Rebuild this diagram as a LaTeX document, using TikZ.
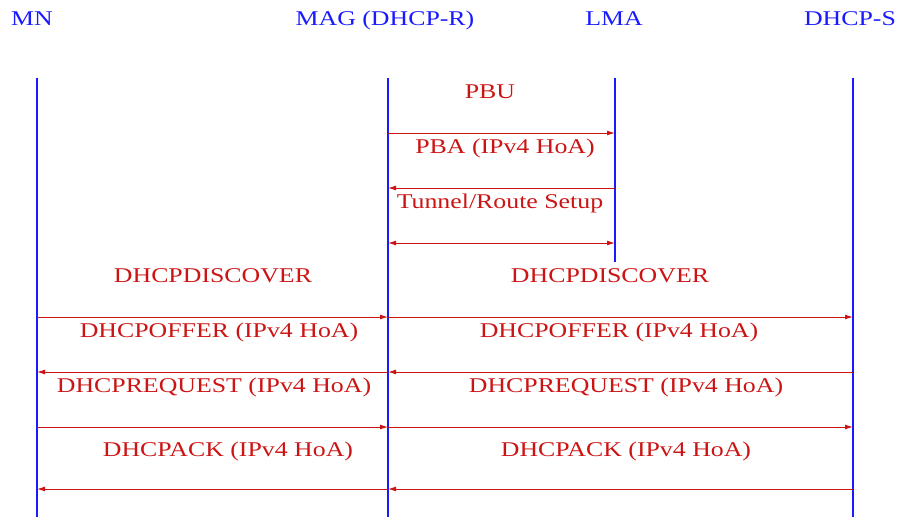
\documentclass[tikz,border=0pt]{standalone}
\usepackage{fontspec}
\setmainfont{Liberation Serif}[FakeStretch=1.23]
\usetikzlibrary{arrows.meta}
\definecolor{lblue}{HTML}{1A1AFF}
\definecolor{mred}{HTML}{CC1414}
\tikzset{
  head/.style={text=lblue, font=\fontsize{21}{24}\selectfont, inner sep=0pt, anchor=base},
  life/.style={draw=lblue, line width=1.4pt},
  lbl/.style={text=mred, font=\fontsize{21}{24}\selectfont, inner sep=0pt, anchor=base},
  msg/.style={draw=mred, line width=1pt, -{Latex[length=8pt,width=5pt]}},
  dmsg/.style={msg, {Latex[length=8pt,width=5pt]}-{Latex[length=8pt,width=5pt]}}
}

\begin{document}
\begin{tikzpicture}[x=1pt, y=-1pt]
  \useasboundingbox (0,0) rectangle (900,517);
  % entities
  \node[head] (mn)   at (32,25)  {MN};
  \node[head] (mag)  at (385,25) {MAG (DHCP-R)};
  \node[head] (lma)  at (614,25) {LMA};
  \node[head] (dhcps) at (850,25) {DHCP-S};
  % lifelines
  \coordinate (mn-top) at (37,78);    \coordinate (mn-bot) at (37,517);
  \coordinate (mag-top) at (388,78);  \coordinate (mag-bot) at (388,517);
  \coordinate (lma-top) at (615,78);  \coordinate (lma-bot) at (615,262);
  \coordinate (ds-top) at (853,78);   \coordinate (ds-bot) at (853,517);
  \draw[life] (mn-top) -- (mn-bot);
  \draw[life] (mag-top) -- (mag-bot);
  \draw[life] (lma-top) -- (lma-bot);
  \draw[life] (ds-top) -- (ds-bot);
  % message points on each lifeline
  \foreach \n/\y in {pbu/133, pba/188, tun/243, disc/317, off/372, req/427, ack/489} {
    \coordinate (mn-\n) at (37,\y);
    \coordinate (mag-\n) at (388,\y);
    \coordinate (lma-\n) at (615,\y);
    \coordinate (ds-\n) at (853,\y);
  }
  % PMIP signalling
  \node[lbl] (pbu) at (490,98)  {PBU};
  \node[lbl] (pba) at (505,153) {PBA (IPv4 HoA)};
  \node[lbl] (tun) at (500,208) {Tunnel/Route Setup};
  \draw[msg] (mag-pbu) -- (lma-pbu);
  \draw[msg] (lma-pba) -- (mag-pba);
  \draw[dmsg] (mag-tun) -- (lma-tun);
  % DHCP exchange
  \node[lbl] (disc1) at (213,282) {DHCPDISCOVER};
  \node[lbl] (disc2) at (610,282) {DHCPDISCOVER};
  \node[lbl] (off1) at (219,337) {DHCPOFFER (IPv4 HoA)};
  \node[lbl] (off2) at (619,337) {DHCPOFFER (IPv4 HoA)};
  \node[lbl] (req1) at (214,392) {DHCPREQUEST (IPv4 HoA)};
  \node[lbl] (req2) at (626,392) {DHCPREQUEST (IPv4 HoA)};
  \node[lbl] (ack1) at (228,456) {DHCPACK (IPv4 HoA)};
  \node[lbl] (ack2) at (626,456) {DHCPACK (IPv4 HoA)};
  \draw[msg] (mn-disc) -- (mag-disc);
  \draw[msg] (mag-disc) -- (ds-disc);
  \draw[msg] (ds-off) -- (mag-off);
  \draw[msg] (mag-off) -- (mn-off);
  \draw[msg] (mn-req) -- (mag-req);
  \draw[msg] (mag-req) -- (ds-req);
  \draw[msg] (ds-ack) -- (mag-ack);
  \draw[msg] (mag-ack) -- (mn-ack);
\end{tikzpicture}
\end{document}
